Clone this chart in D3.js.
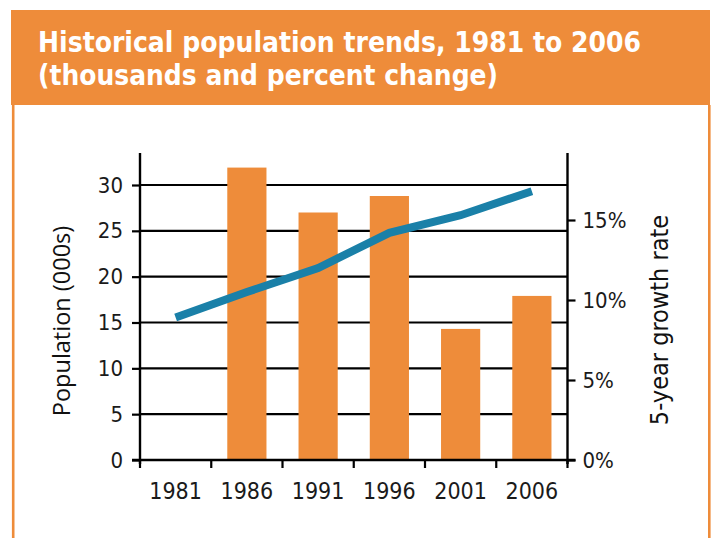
<!DOCTYPE html>
<html><head><meta charset="utf-8">
<script src="https://cdn.jsdelivr.net/npm/d3@7"></script>
<style>body{margin:0;background:#fff} svg{display:block}</style>
</head><body><svg id="c" width="712" height="538"></svg>
<script>
const titleLines = ["Historical population trends, 1981 to 2006", "(thousands and percent change)"];
const titleWidths = [603, 460];
const years = ["1981","1986","1991","1996","2001","2006"];
const population = [null, 31.9, 27.0, 28.8, 14.3, 17.9];
const growth = [8.9, 10.5, 12.0, 14.2, 15.3, 16.8];
const popTicks = [0,5,10,15,20,25,30];
const growthTicks = [0,5,10,15];
const yLabel = "Population (000s)";
const y2Label = "5-year growth rate";

const orange = "#EE8C3A";
const blue = "#1A80A8";
const tickFont = "'DejaVu Sans Condensed','Liberation Sans Narrow',Roboto,sans-serif";
const svg = d3.select("#c");

// frame / header
svg.append("rect").attr("x",11).attr("y",10).attr("width",699).attr("height",95).attr("fill",orange);
svg.append("line").attr("x1",13.2).attr("x2",13.2).attr("y1",105).attr("y2",538).attr("stroke",orange).attr("stroke-width",2.6);
svg.append("line").attr("x1",709.3).attr("x2",709.3).attr("y1",105).attr("y2",538).attr("stroke",orange).attr("stroke-width",2.6);

const tt = svg.append("text").attr("fill","#fff").attr("font-family","'DejaVu Sans Condensed','Liberation Sans Narrow',sans-serif").attr("font-weight","bold").attr("font-size",28);
tt.selectAll("tspan").data(titleLines).join("tspan").attr("x",38).attr("y",(d,i)=>52+i*33)
  .attr("textLength",(d,i)=>titleWidths[i]).attr("lengthAdjust","spacingAndGlyphs").text(d=>d);

// scales
const x = d3.scaleBand().domain(years).range([140, 567.5]).padding(0);
const y = d3.scaleLinear().domain([0,30]).range([460,185]);
const y2 = d3.scaleLinear().domain([0,15]).range([460,220]);
const axisTop = 153;

// grid
svg.append("g").selectAll("line").data(popTicks.filter(d=>d>0)).join("line")
  .attr("x1",140).attr("x2",567.5).attr("y1",d=>y(d)).attr("y2",d=>y(d))
  .attr("stroke","#000").attr("stroke-width",2.2);

// bars
const bw = x.bandwidth()*0.55;
svg.append("g").selectAll("rect").data(years.map((yr,i)=>({yr,v:population[i]})).filter(d=>d.v!=null)).join("rect")
  .attr("x",d=>x(d.yr)+(x.bandwidth()-bw)/2).attr("width",bw)
  .attr("y",d=>y(d.v)).attr("height",d=>y(0)-y(d.v)).attr("fill",orange);

// left axis
const ax = d3.axisLeft(y).tickValues(popTicks).tickSize(8).tickPadding(9);
const gL = svg.append("g").attr("transform","translate(140,0)").call(ax);
gL.select(".domain").remove();
gL.selectAll(".tick line").attr("stroke","#000").attr("stroke-width",2.2);
gL.selectAll("text").attr("font-family",tickFont).attr("font-size",22).attr("fill","#1a1a1a");
svg.append("line").attr("x1",140).attr("x2",140).attr("y1",axisTop).attr("y2",464).attr("stroke","#000").attr("stroke-width",2.4);

// right axis
const ax2 = d3.axisRight(y2).tickValues(growthTicks).tickFormat(d=>d+"%").tickSize(8).tickPadding(7);
const gR = svg.append("g").attr("transform","translate(567.5,0)").call(ax2);
gR.select(".domain").remove();
gR.selectAll(".tick line").attr("stroke","#000").attr("stroke-width",2.2);
gR.selectAll("text").attr("font-family",tickFont).attr("font-size",22).attr("fill","#1a1a1a");
svg.append("line").attr("x1",567.5).attr("x2",567.5).attr("y1",axisTop).attr("y2",464).attr("stroke","#000").attr("stroke-width",2.4);

// bottom axis
svg.append("line").attr("x1",132).attr("x2",575.5).attr("y1",460).attr("y2",460).attr("stroke","#000").attr("stroke-width",2.4);
const bounds = years.map(d=>x(d)).concat([x.range()[1]]);
svg.append("g").selectAll("line").data(bounds).join("line")
  .attr("x1",d=>d).attr("x2",d=>d).attr("y1",460).attr("y2",468).attr("stroke","#000").attr("stroke-width",2.2);
svg.append("g").selectAll("text").data(years).join("text")
  .attr("x",d=>x(d)+x.bandwidth()/2).attr("y",499).attr("text-anchor","middle")
  .attr("font-family",tickFont).attr("font-size",23).attr("fill","#1a1a1a").text(d=>d);

// line
const line = d3.line().x((d,i)=>x(years[i])+x.bandwidth()/2).y(d=>y2(d));
svg.append("path").datum(growth).attr("d",line).attr("fill","none").attr("stroke",blue).attr("stroke-width",8);

// axis titles
svg.append("text").attr("transform","translate(70,321) rotate(-90)").attr("text-anchor","middle")
  .attr("font-family","'Open Sans',sans-serif").attr("font-size",23.5).attr("fill","#111").text(yLabel);
svg.append("text").attr("transform","translate(668,320) rotate(-90)").attr("text-anchor","middle")
  .attr("font-family",tickFont).attr("font-size",25).attr("fill","#111").text(y2Label);
</script></body></html>
